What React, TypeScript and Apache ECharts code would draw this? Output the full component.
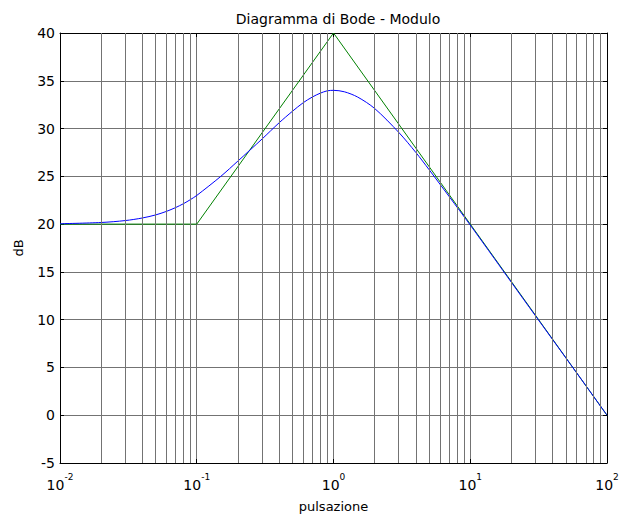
import React, { useEffect, useRef } from "react";
import * as echarts from "echarts";

const omega = [0.01, 0.02, 0.03, 0.04, 0.05, 0.06, 0.07, 0.08, 0.09, 0.1, 0.15, 0.2, 0.3, 0.4, 0.5, 0.6, 0.7, 0.8, 0.9, 1.0, 1.2, 1.5, 2, 3, 4, 5, 7, 10, 15, 20, 30, 50, 70, 100];
const modulo = [20.04, 20.17, 20.37, 20.64, 20.96, 21.33, 21.73, 22.14, 22.57, 23.0, 25.0, 26.6, 28.9, 30.6, 31.8, 32.7, 33.3, 33.7, 33.95, 34.0, 33.85, 33.3, 32.1, 29.6, 27.5, 25.7, 22.9, 19.9, 16.4, 13.9, 10.4, 6.0, 3.1, 0.0];
const asintotoOmega = [0.01, 0.1, 1, 100];
const asintotoDb = [20, 20, 40, 0];
const minorGrid = [
  0.02, 0.03, 0.04, 0.05, 0.06, 0.07, 0.08, 0.09,
  0.2, 0.3, 0.4, 0.5, 0.6, 0.7, 0.8, 0.9,
  2, 3, 4, 5, 6, 7, 8, 9,
  20, 30, 40, 50, 60, 70, 80, 90,
];

export default function App() {
  const ref = useRef<HTMLDivElement>(null);
  useEffect(() => {
    const chart = echarts.init(ref.current!, null, { renderer: "svg" });
    const font = "DejaVu Sans, Liberation Sans, sans-serif";
    const tick = { show: true, inside: true, length: 4, lineStyle: { color: "#000" } };
    const line = { show: true, onZero: false, lineStyle: { color: "#000", width: 1 } };
    chart.setOption({
      animation: false,
      backgroundColor: "#ffffff",
      textStyle: { fontFamily: font },
      title: {
        text: "Diagramma di Bode - Modulo",
        left: 333,
        top: 7,
        textAlign: "center",
        textStyle: { fontFamily: font, fontSize: 14, fontWeight: "normal", color: "#000" },
      },
      grid: { left: 60, right: 12, top: 33, bottom: 55, containLabel: false, outerBoundsMode: "none" },
      xAxis: [
        {
          type: "log",
          logBase: 10,
          min: 0.01,
          max: 100,
          name: "pulsazione",
          nameLocation: "middle",
          nameGap: 37,
          nameTextStyle: { fontFamily: font, fontSize: 13, color: "#000" },
          axisLine: line,
          axisTick: tick,
          splitLine: { show: true, lineStyle: { color: "#737373", width: 1 } },
          axisLabel: {
            margin: 9,
            hideOverlap: false,
            formatter: (v: number) => `{b|10}{s|${Math.round(Math.log10(v))}}`,
            rich: {
              b: { fontFamily: font, fontSize: 14, color: "#000", lineHeight: 20, verticalAlign: "bottom" },
              s: { fontFamily: font, fontSize: 9, color: "#000", lineHeight: 20, verticalAlign: "top" },
            },
          },
        },
        {
          type: "log",
          logBase: 10,
          min: 0.01,
          max: 100,
          position: "top",
          axisLine: line,
          axisTick: tick,
          axisLabel: { show: false },
          splitLine: { show: false },
        },
      ],
      yAxis: [
        {
          type: "value",
          min: -5,
          max: 40,
          interval: 5,
          name: "dB",
          nameLocation: "middle",
          nameGap: 35,
          nameTextStyle: { fontFamily: font, fontSize: 13, color: "#000" },
          axisLine: line,
          axisTick: tick,
          splitLine: { show: true, lineStyle: { color: "#737373", width: 1 } },
          axisLabel: { fontFamily: font, fontSize: 14, color: "#000", margin: 5 },
        },
        {
          type: "value",
          min: -5,
          max: 40,
          interval: 5,
          position: "right",
          axisLine: line,
          axisTick: tick,
          axisLabel: { show: false },
          splitLine: { show: false },
        },
      ],
      series: [
        {
          type: "line",
          data: [],
          silent: true,
          markLine: {
            silent: true,
            symbol: ["none", "none"],
            label: { show: false },
            lineStyle: { color: "#737373", width: 1, type: "solid" },
            data: minorGrid.map((v) => ({ xAxis: v })),
          },
        },
        {
          type: "line",
          data: asintotoOmega.map((w, i) => [w, asintotoDb[i]]),
          showSymbol: false,
          lineStyle: { color: "#008000", width: 1 },
          itemStyle: { color: "#008000" },
          z: 3,
        },
        {
          type: "line",
          data: omega.map((w, i) => [w, modulo[i]]),
          showSymbol: false,
          smooth: 0.3,
          lineStyle: { color: "#0000ff", width: 1 },
          itemStyle: { color: "#0000ff" },
          z: 4,
        },
      ],
    });
    return () => chart.dispose();
  }, []);
  return (
    <div
      ref={ref}
      style={{ position: "fixed", left: 0, top: 0, width: 619, height: 518 }}
    />
  );
}
